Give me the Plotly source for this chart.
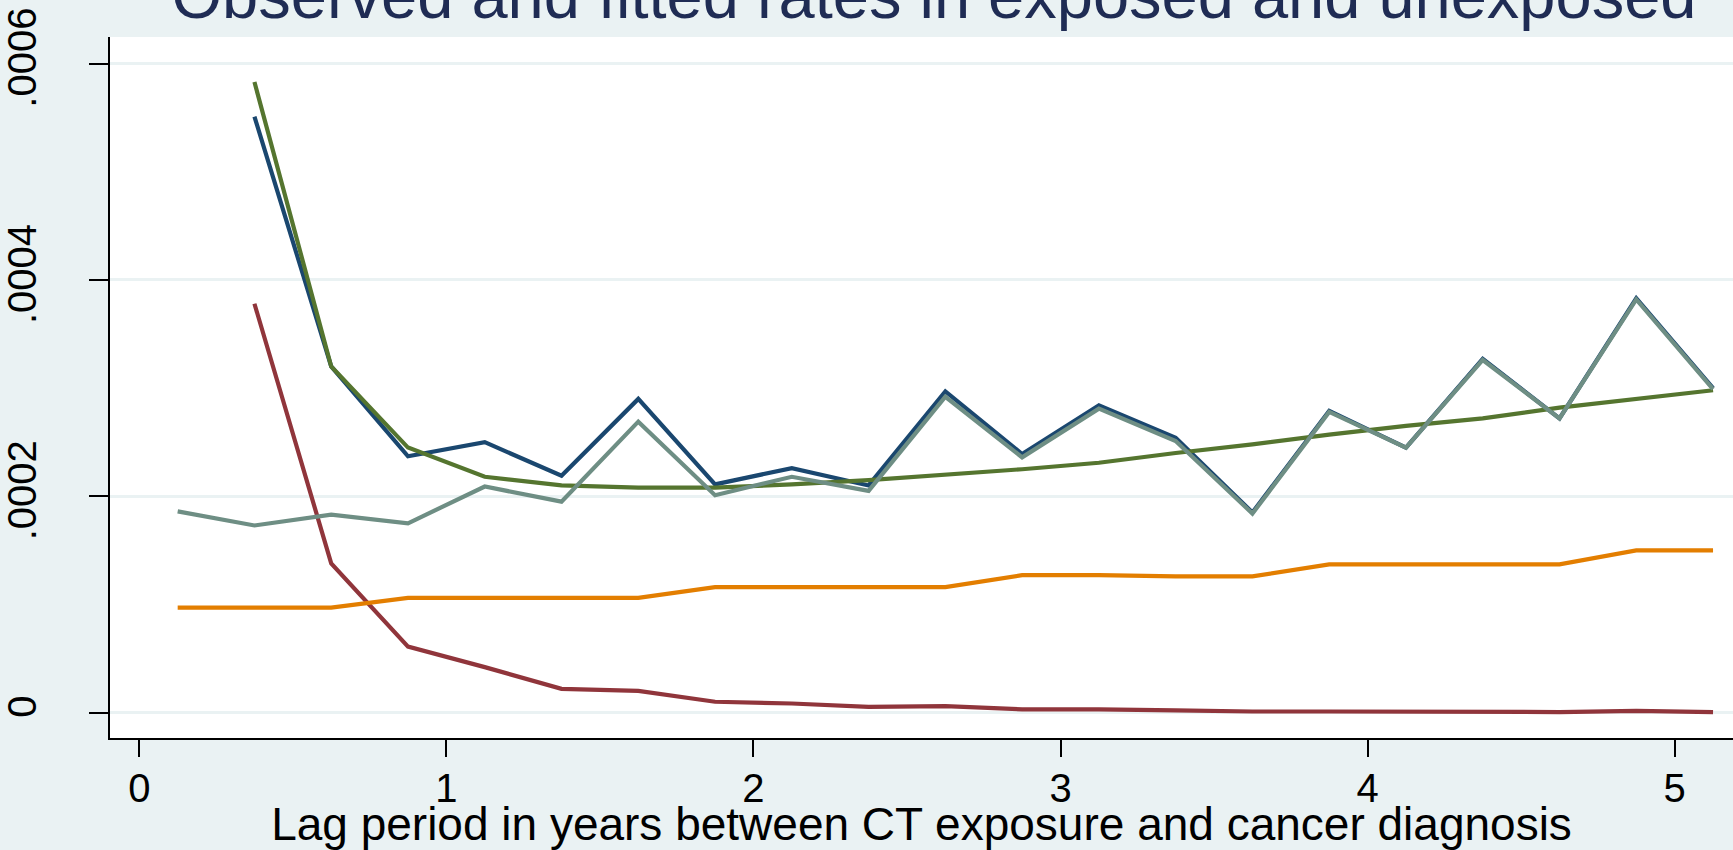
import plotly.graph_objects as go

# Lag period midpoints (years since CT exposure)
lag_all = [0.125, 0.375, 0.625, 0.875, 1.125, 1.375, 1.625, 1.875, 2.125, 2.375,
           2.625, 2.875, 3.125, 3.375, 3.625, 3.875, 4.125, 4.375, 4.625, 4.875, 5.125]
lag_from_q2 = lag_all[1:]

# Rates per person-year
observed_exposed = [0.000551, 0.000320, 0.000237, 0.000250, 0.000219, 0.000290, 0.000211,
                    0.000226, 0.000210, 0.000297, 0.000239, 0.000284, 0.000254, 0.000185,
                    0.000279, 0.000245, 0.000327, 0.000272, 0.000383, 0.000300]
excess_component = [0.000378, 0.000138, 0.000061, 0.000042, 0.000022, 0.000020, 0.000010,
                    0.0000084, 0.0000053, 0.0000059, 0.0000030, 0.0000030, 0.0000020,
                    0.0000010, 0.0000010, 0.0000010, 0.0000010, 0.0000005, 0.0000015,
                    0.0000005]
fitted_exposed = [0.000583, 0.000320, 0.000245, 0.000218, 0.000210, 0.000208, 0.000208,
                  0.000211, 0.000215, 0.000220, 0.000225, 0.000231, 0.000240, 0.000248,
                  0.000257, 0.000265, 0.000272, 0.000282, 0.000290, 0.000298]
fitted_unexposed = [0.000097, 0.000097, 0.000097, 0.000106, 0.000106, 0.000106, 0.000106,
                    0.000116, 0.000116, 0.000116, 0.000116, 0.000127, 0.000127, 0.000126,
                    0.000126, 0.000137, 0.000137, 0.000137, 0.000137, 0.000150, 0.000150]
observed_unexposed = [0.000186, 0.000173, 0.000183, 0.000175, 0.000209, 0.000195, 0.000269,
                      0.000201, 0.000218, 0.000205, 0.000292, 0.000236, 0.000281, 0.000251,
                      0.000184, 0.000278, 0.000245, 0.000326, 0.000272, 0.000382, 0.000299]

y_tick_vals = [0, 0.0002, 0.0004, 0.0006]
y_tick_text = ["0", ".0002", ".0004", ".0006"]
x_tick_vals = [0, 1, 2, 3, 4, 5]

FONT = "Liberation Sans, Arial, sans-serif"
LW = 4.2

fig = go.Figure()
series = [
    (lag_from_q2, observed_exposed, "#1A476F", "Observed, exposed"),
    (lag_from_q2, excess_component, "#90353B", "Excess rate"),
    (lag_from_q2, fitted_exposed, "#55752F", "Fitted, exposed"),
    (lag_all, fitted_unexposed, "#E37E00", "Fitted, unexposed"),
    (lag_all, observed_unexposed, "#6E8E84", "Observed, unexposed"),
]
for xs, ys, col, name in series:
    fig.add_trace(go.Scatter(x=xs, y=ys, mode="lines", name=name,
                             line=dict(color=col, width=LW)))

fig.update_layout(
    width=1733, height=850,
    margin=dict(l=110, r=0, t=37, b=112),
    paper_bgcolor="#EAF2F3",
    plot_bgcolor="#FFFFFF",
    showlegend=False,
    font=dict(family=FONT, color="black"),
    title=dict(text="Observed and fitted rates in exposed and unexposed",
               font=dict(family=FONT, size=65, color="#1F2C54"),
               x=934 / 1733, xanchor="center",
               yref="container", y=1 - 18 / 850, yanchor="bottom"),
)
fig.update_xaxes(
    range=[-0.0954, 5.190], automargin=False,
    tickvals=x_tick_vals, ticks="outside", ticklen=17, tickwidth=2, tickcolor="black",
    tickfont=dict(size=40, family=FONT), ticklabelstandoff=-3,
    showline=True, linecolor="black", linewidth=2,
    showgrid=False, zeroline=False,
    title=dict(text="Lag period in years between CT exposure and cancer diagnosis",
               font=dict(size=46, family=FONT), standoff=10),
)
fig.update_yaxes(
    range=[-0.0000235, 0.0006246], automargin=False,
    tickvals=y_tick_vals, ticktext=y_tick_text, tickangle=-90,
    ticks="outside", ticklen=19, tickwidth=2, tickcolor="black",
    tickfont=dict(size=40, family=FONT), ticklabelstandoff=37,
    showline=True, linecolor="black", linewidth=2,
    showgrid=True, gridcolor="#EAF2F3", gridwidth=3, zeroline=False,
)

fig.write_html("out.html")
